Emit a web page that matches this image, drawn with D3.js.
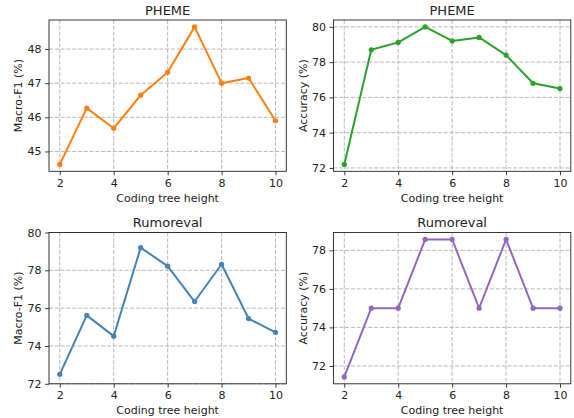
<!DOCTYPE html>
<html>
<head>
<meta charset="utf-8">
<script src="https://cdn.jsdelivr.net/npm/d3@7"></script>
<style>
  body { margin: 0; background: #fff; }
  svg { font-family: "DejaVu Sans", sans-serif; }
</style>
</head>
<body>
<svg width="574" height="418"></svg>
<script>
// x values (coding tree height)
var heights = [2, 3, 4, 5, 6, 7, 8, 9, 10];
var xTicks = [2, 4, 6, 8, 10];

// series values
var phemeF1 = [44.62, 46.27, 45.68, 46.65, 47.32, 48.65, 47.0, 47.15, 45.9];
var phemeAcc = [72.2, 78.7, 79.12, 80.0, 79.2, 79.4, 78.4, 76.8, 76.5];
var rumorF1 = [72.5, 75.62, 74.52, 79.2, 78.22, 76.35, 78.32, 75.45, 74.72];
var rumorAcc = [71.43, 75.0, 75.0, 78.57, 78.57, 75.0, 78.57, 75.0, 75.0];

// y tick labels per panel
var phemeF1Ticks = [45, 46, 47, 48];
var phemeAccTicks = [72, 74, 76, 78, 80];
var rumorF1Ticks = [72, 74, 76, 78, 80];
var rumorAccTicks = [72, 74, 76, 78];

var svg = d3.select("svg");

// matplotlib style auto limits: 5% margin on each side
function padded(vals) {
  var lo = d3.min(vals), hi = d3.max(vals), m = (hi - lo) * 0.05;
  return [lo - m, hi + m];
}

var panels = [
  { title: "PHEME", ylabel: "Macro-F1 (%)", values: phemeF1, ticks: phemeF1Ticks,
    ydom: padded(phemeF1), color: "#ff7f0e", x0: 49, y0: 20 },
  { title: "PHEME", ylabel: "Accuracy (%)", values: phemeAcc, ticks: phemeAccTicks,
    ydom: padded(phemeAcc), color: "#2ca02c", x0: 333.5, y0: 20 },
  { title: "Rumoreval", ylabel: "Macro-F1 (%)", values: rumorF1, ticks: rumorF1Ticks,
    ydom: [72, 80], color: "#4682b4", x0: 49, y0: 232.5 },
  { title: "Rumoreval", ylabel: "Accuracy (%)", values: rumorAcc, ticks: rumorAccTicks,
    ydom: padded(rumorAcc), color: "#9467bd", x0: 333.5, y0: 232.5 }
];

var pw = 237.3, ph = 151.3;

panels.forEach(function(p) {
  var g = svg.append("g").attr("transform", "translate(" + p.x0 + "," + p.y0 + ")");

  var x = d3.scaleLinear().domain(padded(heights)).range([0, pw]);
  var y = d3.scaleLinear().domain(p.ydom).range([ph, 0]);

  // grid
  g.selectAll("line.gx").data(xTicks).enter().append("line")
    .attr("x1", function(d) { return x(d); }).attr("x2", function(d) { return x(d); })
    .attr("y1", 0).attr("y2", ph)
    .attr("stroke", "#b0b0b0").attr("stroke-width", 0.9).attr("stroke-dasharray", "4,1.8");
  g.selectAll("line.gy").data(p.ticks).enter().append("line")
    .attr("y1", function(d) { return y(d); }).attr("y2", function(d) { return y(d); })
    .attr("x1", 0).attr("x2", pw)
    .attr("stroke", "#b0b0b0").attr("stroke-width", 0.9).attr("stroke-dasharray", "4,1.8");

  // axes
  var xa = g.append("g").attr("transform", "translate(0," + ph + ")")
    .call(d3.axisBottom(x).tickValues(xTicks).tickSize(3.9).tickPadding(3.5).tickFormat(d3.format("d")));
  var ya = g.append("g")
    .call(d3.axisLeft(y).tickValues(p.ticks).tickSize(3.9).tickPadding(3.5).tickFormat(d3.format("d")));
  [xa, ya].forEach(function(a) {
    a.select(".domain").remove();
    a.selectAll("line").attr("stroke", "#222").attr("stroke-width", 0.9);
    a.selectAll("text").attr("font-size", 11).attr("fill", "#222")
      .attr("font-family", "DejaVu Sans, sans-serif");
  });

  // frame
  g.append("rect").attr("width", pw).attr("height", ph)
    .attr("fill", "none").attr("stroke", "#222").attr("stroke-width", 0.9);

  // line + markers
  var line = d3.line().x(function(d, i) { return x(heights[i]); }).y(function(d) { return y(d); });
  g.append("path").datum(p.values).attr("d", line)
    .attr("fill", "none").attr("stroke", p.color).attr("stroke-width", 2)
    .attr("stroke-linejoin", "round");
  g.selectAll("circle").data(p.values).enter().append("circle")
    .attr("cx", function(d, i) { return x(heights[i]); })
    .attr("cy", function(d) { return y(d); })
    .attr("r", 2.6).attr("fill", p.color);

  // texts
  g.append("text").attr("x", pw / 2).attr("y", -5.5).attr("text-anchor", "middle")
    .attr("font-size", 13).attr("fill", "#222").text(p.title);
  g.append("text").attr("x", pw / 2).attr("y", ph + 30.5).attr("text-anchor", "middle")
    .attr("font-size", 11).attr("fill", "#222").text("Coding tree height");
  g.append("text")
    .attr("transform", "translate(" + -27 + "," + (ph / 2) + ") rotate(-90)")
    .attr("text-anchor", "middle").attr("font-size", 11).attr("fill", "#222").text(p.ylabel);
});
</script>
</body>
</html>
